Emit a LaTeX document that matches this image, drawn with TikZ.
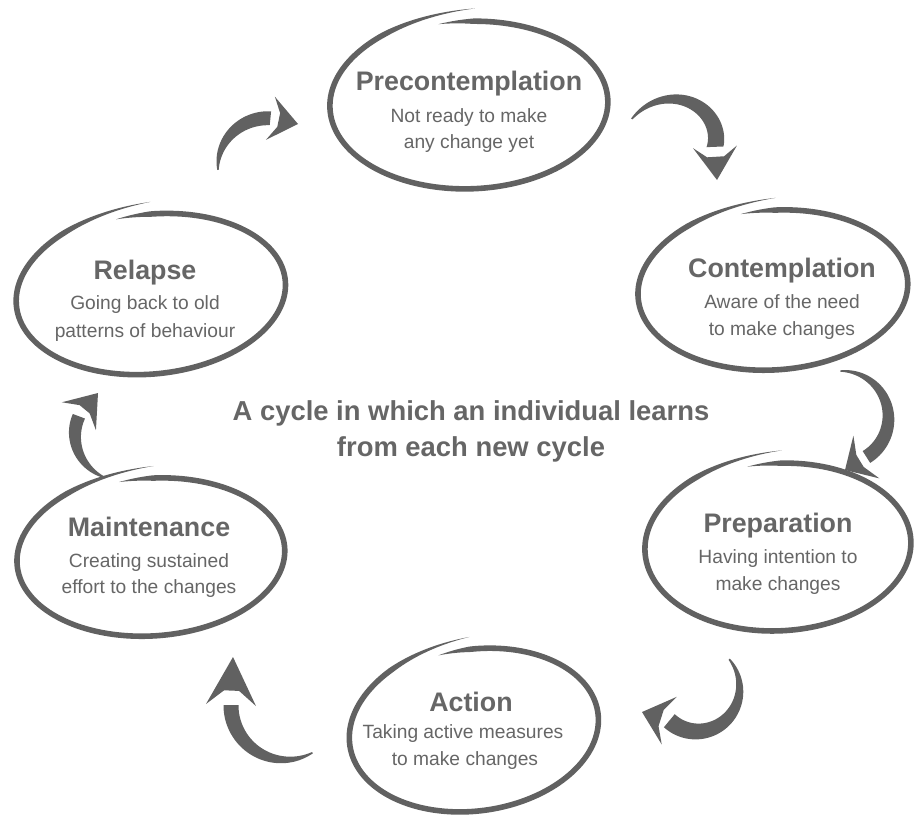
\documentclass[tikz,border=0pt]{standalone}
\usepackage{fontspec}
\setmainfont{Liberation Sans}
\definecolor{ink}{HTML}{616161}
\definecolor{txt}{HTML}{666666}
\newdimen\brdim
% hand-drawn ellipse: cx cy rx ry rot
\newcommand\handell[5]{%
  \begin{scope}[shift={(#1,#2)},rotate=#5]
  \fill[ink] plot[domain=0:1,samples=180,variable=\t]
   ({((0.985+0.15*\t^8)*#3+2.8*min(1,\t/0.04,(1-\t)/0.1))*cos(258+375*\t)},
    {((0.985+0.15*\t^8)*#4+2.8*min(1,\t/0.04,(1-\t)/0.1))*sin(258+375*\t)})
   -- plot[domain=1:0,samples=180,variable=\t]
   ({((0.985+0.15*\t^8)*#3-2.8*min(1,\t/0.04,(1-\t)/0.1))*cos(258+375*\t)},
    {((0.985+0.15*\t^8)*#4-2.8*min(1,\t/0.04,(1-\t)/0.1))*sin(258+375*\t)})
   -- cycle;
  \end{scope}}
% brush arrow: cx cy r1 r2 a1 a2 w tipname barbhalfwidth
\newcommand\brarrow[9]{%
  \pgfextractx{\brdim}{\pgfpointanchor{#8}{center}}\pgfmathsetmacro\brTx{\brdim}%
  \pgfextracty{\brdim}{\pgfpointanchor{#8}{center}}\pgfmathsetmacro\brTy{0-\brdim}%
  \pgfmathsetmacro\brJx{#1+(#4)*cos(#6)}%
  \pgfmathsetmacro\brJy{#2+(#4)*sin(#6)}%
  \pgfmathsetmacro\brDx{\brTx-\brJx}%
  \pgfmathsetmacro\brDy{\brTy-\brJy}%
  \pgfmathsetmacro\brL{veclen(\brDx,\brDy)}%
  \pgfmathsetmacro\brPx{0-(\brDy)/\brL}%
  \pgfmathsetmacro\brPy{(\brDx)/\brL}%
  \fill[ink] plot[domain=0:1,samples=60,variable=\t]
   ({#1+(#3+((#4)-(#3))*\t+0.5*#7*(0.1+0.9*sin(90*\t)))*cos(#5+((#6)-(#5))*\t)},
    {#2+(#3+((#4)-(#3))*\t+0.5*#7*(0.1+0.9*sin(90*\t)))*sin(#5+((#6)-(#5))*\t)})
   -- plot[domain=1:0,samples=60,variable=\t]
   ({#1+(#3+((#4)-(#3))*\t-0.5*#7*(0.1+0.9*sin(90*\t)))*cos(#5+((#6)-(#5))*\t)},
    {#2+(#3+((#4)-(#3))*\t-0.5*#7*(0.1+0.9*sin(90*\t)))*sin(#5+((#6)-(#5))*\t)})
   -- cycle;
  \fill[ink] ({\brJx+#9*(\brPx)},{\brJy+#9*(\brPy)}) -- (#8)
   -- ({\brJx-#9*(\brPx)},{\brJy-#9*(\brPy)})
   -- ({\brJx+0.3*(\brDx)-0.5*#7*(\brPx)},{\brJy+0.3*(\brDy)-0.5*#7*(\brPy)})
   -- ({\brJx+0.3*(\brDx)+0.5*#7*(\brPx)},{\brJy+0.3*(\brDy)+0.5*#7*(\brPy)})
   -- cycle;}
\tikzset{
  ttl/.style={anchor=base,inner sep=0pt,text=txt,font=\fontsize{26.8}{30}\selectfont\bfseries},
  sub/.style={anchor=base,inner sep=0pt,text=txt,font=\fontsize{19.2}{24}\selectfont},
  mid/.style={anchor=base,inner sep=0pt,text=txt,font=\fontsize{27.4}{32}\selectfont\bfseries}
}
\begin{document}
\begin{tikzpicture}[x=1pt,y=-1pt]
\fill[white] (0,0) rectangle (920,822);
\useasboundingbox (0,0) rectangle (920,822);

% ellipses
\handell{470}{105}{140}{85}{2}
\handell{774}{290}{136}{81}{4}
\handell{779}{547}{134}{85}{3}
\handell{475}{730}{126}{82}{8}
\handell{152}{557}{135}{80}{4}
\handell{152}{294}{136}{81}{6}

% texts
\node[ttl] (pre-t) at (469,90) {Precontemplation};
\node[sub] (pre-a) at (469,122) {Not ready to make};
\node[sub] (pre-b) at (469,148) {any change yet};

\node[ttl] (con-t) at (782,277) {Contemplation};
\node[sub] (con-a) at (782,308) {Aware of the need};
\node[sub] (con-b) at (782,335) {to make changes};

\node[ttl] (prp-t) at (778,532) {Preparation};
\node[sub] (prp-a) at (778,563) {Having intention to};
\node[sub] (prp-b) at (778,590) {make changes};

\node[ttl] (act-t) at (471,711) {Action};
\node[sub] (act-a) at (463,738) {Taking active measures};
\node[sub] (act-b) at (465,765) {to make changes};

\node[ttl] (mnt-t) at (149,536) {Maintenance};
\node[sub] (mnt-a) at (149,567) {Creating sustained};
\node[sub] (mnt-b) at (149,593) {effort to the changes};

\node[ttl] (rel-t) at (145,279) {Relapse};
\node[sub] (rel-a) at (145,309) {Going back to old};
\node[sub] (rel-b) at (145,337) {patterns of behaviour};

\node[mid] (c1) at (471,420) {A cycle in which an individual learns};
\node[mid] (c2) at (471,456) {from each new cycle};

% arrow tips
\coordinate (t1) at (298,124);
\coordinate (t2) at (717,180);
\coordinate (t3) at (845,470);
\coordinate (t4) at (642,712);
\coordinate (t5) at (233,657);
\coordinate (t6) at (98,393);

% arrows
\brarrow{265}{170}{47}{52}{180}{276}{14}{t1}{22}
\brarrow{682}{148}{58}{33}{210}{358}{17}{t2}{22}
\brarrow{842}{418}{47}{46}{268}{418}{14}{t3}{25}
\brarrow{695}{690}{46}{40}{-42}{130}{17}{t4}{25}
\brarrow{285}{705}{55}{54}{60}{180}{15}{t5}{25}
\brarrow{120}{432}{48}{44}{108}{201}{13}{t6}{22}
\end{tikzpicture}
\end{document}
